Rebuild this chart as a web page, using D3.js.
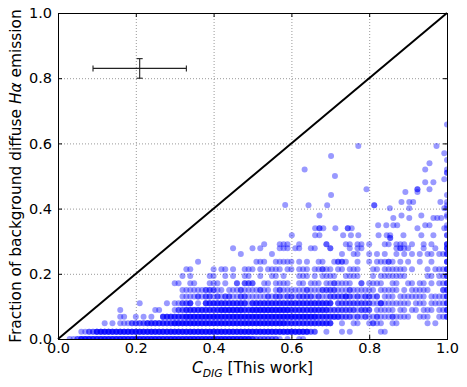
<!DOCTYPE html>
<html>
<head>
<meta charset="utf-8">
<script src="https://cdn.jsdelivr.net/npm/d3@7"></script>
<style>
  body { margin: 0; background: #fff; }
  svg { display: block; font-family: "DejaVu Sans", sans-serif; }
</style>
</head>
<body>
<div id="chart"></div>
<script>
// y level of each dense row
const rowLevels = [0, 0.022, 0.048, 0.068, 0.089, 0.110, 0.130, 0.150, 0.171, 0.193,
                   0.214, 0.237, 0.261, 0.278, 0.291];

// per row: number of points at x = 0.00, 0.01, ... 1.00 (groups of ten)
const rowCounts = [
  "0001124444 4444444444 4444444444 4444444444 4444444444 3222222101 0011000000 0000000000 0000000000 0000000000 0",
  "0000001122 4444444444 4444444444 4444444444 4444444444 4444444444 4444422001 0001010000 0001100000 0000000000 0",
  "0000000000 0010101112 2223333333 4444444444 4444444444 4444444443 3333333333 3001001100 1211001100 0000010100 0",
  "0000000000 0000001100 1010100333 3334444444 4444444444 4444444444 4444444333 3332221212 1121112111 1001110011 3",
  "0000000000 0000001000 0000011000 1223333333 3344444433 4444444444 3333333333 2222222122 2011111011 0110111011 3",
  "0000000000 0000000000 0100000010 1122301033 3333333331 3333333333 3333333333 3022222222 2113111111 1011101111 3",
  "0000000000 0000000000 0000000000 0011112122 1212211221 1111212212 2122221211 2222321212 2120111011 1111101111 3",
  "0000000000 0000000000 0000000000 0011111122 2110111211 1121101211 1111211122 2211121111 1101111101 0111110002 3",
  "0000000000 0000000000 0000000000 1100110001 1101002022 2001101111 0011011101 1211110020 1111001100 1101101011 3",
  "0000000000 0000000000 0000000000 0010100001 1001010011 0010011010 0011101011 1100111100 0101111111 0000011011 3",
  "0000000000 0000000000 0000000000 0001100000 1011010011 1010111101 1011101121 1011011100 0110111111 0100010111 3",
  "0000000000 0000000000 0000000000 0000001000 0000000000 0111001111 1010100110 0122100100 1011121010 1001001000 3",
  "0000000000 0000000000 0000000000 0000000000 0000000100 0000010000 0000000000 0001001100 1010100101 0101011011 3",
  "0000000000 0000000000 0000000000 0000000000 0000010000 1010000111 0110011000 2000010110 0000000121 1000100100 3",
  "0000000000 0000000000 0000000000 0000000000 0000000000 0001000111 0010000002 0000110110 1000110111 0100101000 3"
];

// scattered points above the dense band [x, y]
const upperPoints = [
  [0.601,0.318],[0.661,0.318],[0.672,0.318],[0.733,0.318],[0.753,0.318],[0.772,0.318],[0.824,0.318],
  [0.845,0.318],[0.854,0.318],[0.888,0.318],[0.934,0.318],[0.965,0.318],[1.0,0.318],[1.0,0.318],
  [0.854,0.31],[0.854,0.31],
  [0.661,0.34],[0.672,0.34],[0.672,0.34],[0.682,0.34],[0.713,0.34],[0.745,0.34],[0.745,0.34],[0.755,0.34],
  [0.823,0.349],[0.844,0.349],[0.862,0.349],[0.872,0.349],[0.924,0.34],[0.944,0.349],[0.955,0.349],
  [0.993,0.34],[1.0,0.34],[1.0,0.349],
  [0.672,0.379],[0.862,0.371],[0.883,0.379],[0.903,0.371],[0.934,0.379],[0.965,0.371],[0.975,0.371],
  [0.985,0.371],[1.0,0.375],[1.0,0.38],
  [0.584,0.411],[0.644,0.41],[0.692,0.41],[0.813,0.41],[0.813,0.41],[0.853,0.401],[0.883,0.42],
  [0.903,0.42],[0.913,0.42],[0.903,0.401],[0.983,0.42],[0.993,0.401],[1.0,0.42],[1.0,0.41],[1.0,0.40],
  [0.702,0.442],[0.793,0.459],[0.893,0.451],[0.924,0.459],[0.924,0.459],[0.924,0.451],[0.955,0.459],[1.0,0.442],
  [0.712,0.5],[0.944,0.481],[0.965,0.481],[0.993,0.49],
  [0.634,0.52],[0.944,0.52],[0.955,0.539],[1.0,0.52],[1.0,0.51],[1.0,0.51],[1.0,0.549],
  [0.702,0.561],[0.772,0.592],[0.973,0.592],[0.993,0.57],[1.0,0.658]
];

// representative error bar
const errCenter = [0.21, 0.83];
const errX = 0.12;
const errY = 0.03;

const tickValues = [0, 0.2, 0.4, 0.6, 0.8, 1.0];

const width = 467, height = 387;
const margin = {top: 13, right: 20, bottom: 48, left: 58};
const innerW = width - margin.left - margin.right;
const innerH = height - margin.top - margin.bottom;

const x = d3.scaleLinear().domain([0, 1]).range([0, innerW]);
const y = d3.scaleLinear().domain([0, 1]).range([innerH, 0]);

const svg = d3.select("#chart").append("svg")
  .attr("width", width)
  .attr("height", height);

svg.append("defs").append("clipPath").attr("id", "plotclip")
  .append("rect").attr("width", innerW).attr("height", innerH);

const g = svg.append("g")
  .attr("transform", `translate(${margin.left},${margin.top})`);

// grid
const grid = g.append("g").attr("stroke", "#999").attr("stroke-dasharray", "1,2").attr("stroke-width", 1);
tickValues.slice(1, 5).forEach(v => {
  grid.append("line").attr("x1", x(v) + 0.5).attr("x2", x(v) + 0.5).attr("y1", 0).attr("y2", innerH);
  grid.append("line").attr("y1", y(v) + 0.5).attr("y2", y(v) + 0.5).attr("x1", 0).attr("x2", innerW);
});

// build points
const points = [];
rowCounts.forEach((s, r) => {
  const cells = s.replace(/ /g, "");
  for (let i = 0; i < cells.length; i++) {
    const c = +cells[i];
    for (let k = 0; k < c; k++) points.push({x: i / 100, y: rowLevels[r]});
  }
});
upperPoints.forEach(p => points.push({x: p[0], y: p[1]}));

g.append("g").attr("clip-path", "url(#plotclip)")
  .selectAll("circle")
  .data(points)
  .enter().append("circle")
  .attr("cx", d => x(d.x))
  .attr("cy", d => y(d.y))
  .attr("r", 3)
  .attr("fill", "#0000ff")
  .attr("fill-opacity", 0.4);

// one-to-one line
g.append("line")
  .attr("x1", x(0)).attr("y1", y(0))
  .attr("x2", x(1)).attr("y2", y(1))
  .attr("stroke", "#000")
  .attr("stroke-width", 2);

// error bar
const eb = g.append("g").attr("stroke", "#222").attr("stroke-width", 1.1);
const cx = x(errCenter[0]), cy = y(errCenter[1]);
eb.append("line").attr("x1", x(errCenter[0] - errX)).attr("x2", x(errCenter[0] + errX)).attr("y1", cy).attr("y2", cy);
eb.append("line").attr("x1", cx).attr("x2", cx).attr("y1", y(errCenter[1] - errY)).attr("y2", y(errCenter[1] + errY));
[errCenter[0] - errX, errCenter[0] + errX].forEach(v => {
  eb.append("line").attr("x1", x(v)).attr("x2", x(v)).attr("y1", cy - 3).attr("y2", cy + 3);
});
[errCenter[1] - errY, errCenter[1] + errY].forEach(v => {
  eb.append("line").attr("x1", cx - 3).attr("x2", cx + 3).attr("y1", y(v)).attr("y2", y(v));
});

// axes
const fmt = d3.format(".1f");
g.append("g").attr("transform", `translate(0,${innerH})`)
  .call(d3.axisBottom(x).tickValues(tickValues).tickFormat(fmt).tickSizeInner(-4).tickSizeOuter(0).tickPadding(4));
g.append("g")
  .call(d3.axisLeft(y).tickValues(tickValues).tickFormat(fmt).tickSizeInner(-4).tickSizeOuter(0).tickPadding(6));
g.append("g")
  .call(d3.axisTop(x).tickValues(tickValues).tickFormat("").tickSizeInner(-4).tickSizeOuter(0));
g.append("g").attr("transform", `translate(${innerW},0)`)
  .call(d3.axisRight(y).tickValues(tickValues).tickFormat("").tickSizeInner(-4).tickSizeOuter(0));

g.selectAll(".domain").remove();
g.selectAll(".tick line").attr("stroke", "#000");
g.selectAll(".tick text")
  .attr("fill", "#000")
  .attr("font-size", 14.5)
  .attr("font-family", "DejaVu Sans");

// frame
g.append("rect")
  .attr("x", 0.5).attr("y", 0.5)
  .attr("width", innerW).attr("height", innerH)
  .attr("fill", "none").attr("stroke", "#000").attr("stroke-width", 1);

// labels
const xl = svg.append("text")
  .attr("x", margin.left + innerW / 2)
  .attr("y", 373)
  .attr("text-anchor", "middle")
  .attr("font-size", 15.4)
  .attr("fill", "#000");
xl.append("tspan").attr("font-style", "italic").text("C");
xl.append("tspan").attr("font-style", "italic").attr("font-size", 10.8).attr("dy", 4).text("DIG");
xl.append("tspan").attr("dy", -4).text(" [This work]");

const yl = svg.append("text")
  .attr("transform", `translate(21,${margin.top + innerH / 2}) rotate(-90)`)
  .attr("text-anchor", "middle")
  .attr("font-size", 15.4)
  .attr("fill", "#000");
yl.append("tspan").text("Fraction of background diffuse ");
yl.append("tspan").attr("font-style", "italic").text("Hα");
yl.append("tspan").text(" emission");
</script>
</body>
</html>
